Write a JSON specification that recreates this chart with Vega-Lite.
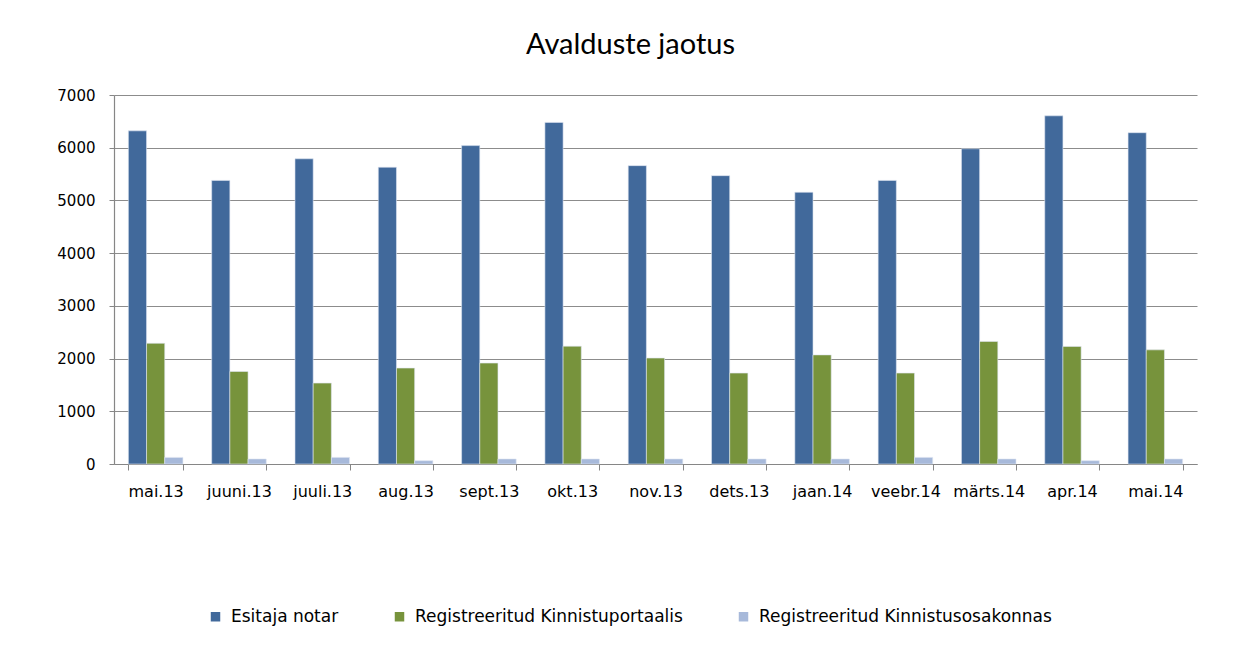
{
  "$schema": "https://vega.github.io/schema/vega-lite/v6.json",
  "width": 1083,
  "height": 369,
  "autosize": {"type": "none"},
  "padding": {"left": 114, "top": 95, "right": 53, "bottom": 181},
  "background": "white",
  "title": {
    "text": "Avalduste jaotus",
    "font": "Lato",
    "fontSize": 29,
    "fontWeight": "normal",
    "color": "#000000",
    "anchor": "middle",
    "dx": -25,
    "offset": 28
  },
  "data": {
    "values": [
      {"kuu": "mai.13", "seeria": "Esitaja notar", "v": 6320},
      {"kuu": "mai.13", "seeria": "Registreeritud Kinnistuportaalis", "v": 2290},
      {"kuu": "mai.13", "seeria": "Registreeritud Kinnistusosakonnas", "v": 125},
      {"kuu": "juuni.13", "seeria": "Esitaja notar", "v": 5380},
      {"kuu": "juuni.13", "seeria": "Registreeritud Kinnistuportaalis", "v": 1755},
      {"kuu": "juuni.13", "seeria": "Registreeritud Kinnistusosakonnas", "v": 95},
      {"kuu": "juuli.13", "seeria": "Esitaja notar", "v": 5790},
      {"kuu": "juuli.13", "seeria": "Registreeritud Kinnistuportaalis", "v": 1535},
      {"kuu": "juuli.13", "seeria": "Registreeritud Kinnistusosakonnas", "v": 125},
      {"kuu": "aug.13", "seeria": "Esitaja notar", "v": 5630},
      {"kuu": "aug.13", "seeria": "Registreeritud Kinnistuportaalis", "v": 1820},
      {"kuu": "aug.13", "seeria": "Registreeritud Kinnistusosakonnas", "v": 63},
      {"kuu": "sept.13", "seeria": "Esitaja notar", "v": 6040},
      {"kuu": "sept.13", "seeria": "Registreeritud Kinnistuportaalis", "v": 1915},
      {"kuu": "sept.13", "seeria": "Registreeritud Kinnistusosakonnas", "v": 95},
      {"kuu": "okt.13", "seeria": "Esitaja notar", "v": 6480},
      {"kuu": "okt.13", "seeria": "Registreeritud Kinnistuportaalis", "v": 2235},
      {"kuu": "okt.13", "seeria": "Registreeritud Kinnistusosakonnas", "v": 95},
      {"kuu": "nov.13", "seeria": "Esitaja notar", "v": 5660},
      {"kuu": "nov.13", "seeria": "Registreeritud Kinnistuportaalis", "v": 2010},
      {"kuu": "nov.13", "seeria": "Registreeritud Kinnistusosakonnas", "v": 95},
      {"kuu": "dets.13", "seeria": "Esitaja notar", "v": 5470},
      {"kuu": "dets.13", "seeria": "Registreeritud Kinnistuportaalis", "v": 1725},
      {"kuu": "dets.13", "seeria": "Registreeritud Kinnistusosakonnas", "v": 95},
      {"kuu": "jaan.14", "seeria": "Esitaja notar", "v": 5155},
      {"kuu": "jaan.14", "seeria": "Registreeritud Kinnistuportaalis", "v": 2070},
      {"kuu": "jaan.14", "seeria": "Registreeritud Kinnistusosakonnas", "v": 95},
      {"kuu": "veebr.14", "seeria": "Esitaja notar", "v": 5380},
      {"kuu": "veebr.14", "seeria": "Registreeritud Kinnistuportaalis", "v": 1725},
      {"kuu": "veebr.14", "seeria": "Registreeritud Kinnistusosakonnas", "v": 125},
      {"kuu": "märts.14", "seeria": "Esitaja notar", "v": 5980},
      {"kuu": "märts.14", "seeria": "Registreeritud Kinnistuportaalis", "v": 2325},
      {"kuu": "märts.14", "seeria": "Registreeritud Kinnistusosakonnas", "v": 95},
      {"kuu": "apr.14", "seeria": "Esitaja notar", "v": 6605},
      {"kuu": "apr.14", "seeria": "Registreeritud Kinnistuportaalis", "v": 2230},
      {"kuu": "apr.14", "seeria": "Registreeritud Kinnistusosakonnas", "v": 63},
      {"kuu": "mai.14", "seeria": "Esitaja notar", "v": 6285},
      {"kuu": "mai.14", "seeria": "Registreeritud Kinnistuportaalis", "v": 2165},
      {"kuu": "mai.14", "seeria": "Registreeritud Kinnistusosakonnas", "v": 95}
    ]
  },
  "mark": {"type": "bar", "stroke": "#dfe6f1", "strokeWidth": 0.6},
  "encoding": {
    "x": {
      "field": "kuu",
      "type": "nominal",
      "sort": null,
      "scale": {"paddingInner": 0.345, "paddingOuter": 0.1725},
      "axis": {
        "title": null,
        "labelAngle": 0,
        "labelFont": "DejaVu Sans",
        "labelFontSize": 16,
        "labelColor": "#000000",
        "labelPadding": 13,
        "labelLimit": 0,
        "tickBand": "extent",
        "tickSize": 6,
        "tickColor": "#868686",
        "domainColor": "#868686",
        "domainWidth": 1.2,
        "grid": false
      }
    },
    "xOffset": {"field": "seeria", "type": "nominal", "sort": null},
    "y": {
      "field": "v",
      "type": "quantitative",
      "scale": {"domain": [0, 7000], "nice": false},
      "axis": {
        "title": null,
        "format": "d",
        "values": [0, 1000, 2000, 3000, 4000, 5000, 6000, 7000],
        "labelFont": "DejaVu Sans",
        "labelFontSize": 15,
        "labelColor": "#000000",
        "labelPadding": 14,
        "tickSize": 5,
        "tickColor": "#868686",
        "domainColor": "#868686",
        "domainWidth": 1.2,
        "gridColor": "#8c8c8c",
        "gridWidth": 1.2
      }
    },
    "color": {
      "field": "seeria",
      "type": "nominal",
      "sort": null,
      "scale": {
        "domain": ["Esitaja notar", "Registreeritud Kinnistuportaalis", "Registreeritud Kinnistusosakonnas"],
        "range": ["#41699B", "#77933C", "#A7B9DA"]
      },
      "legend": {
        "title": null,
        "orient": "none",
        "direction": "horizontal",
        "legendX": 93,
        "legendY": 513,
        "symbolType": "square",
        "symbolSize": 90,
        "symbolStrokeWidth": 0,
        "labelFont": "DejaVu Sans",
        "labelFontSize": 17,
        "labelColor": "#000000",
        "labelOffset": 7,
        "labelLimit": 0,
        "columnPadding": 52
      }
    }
  },
  "config": {"view": {"stroke": null}}
}
